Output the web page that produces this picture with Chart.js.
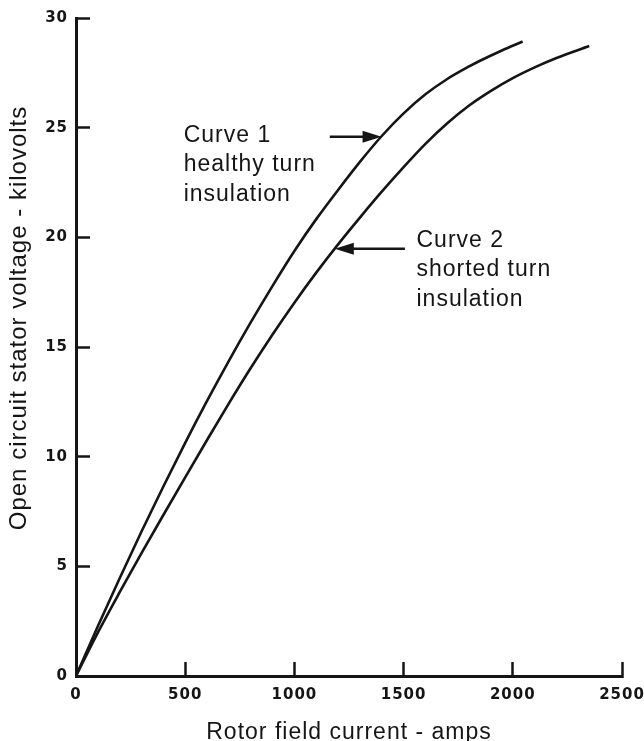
<!DOCTYPE html>
<html>
<head>
<meta charset="utf-8">
<script src="https://cdn.jsdelivr.net/npm/chart.js@4.4.1/dist/chart.umd.min.js"></script>
<style>
  html, body { margin: 0; padding: 0; background: #fff; }
  #wrap { width: 644px; height: 741px; }
</style>
</head>
<body>
<div id="wrap"><canvas id="myChart1" width="644" height="741"></canvas></div>
<script>
//------------------ data ------------------//
// curve 1 : healthy turn insulation
const CURRENT_1 = [0, 100, 200, 300, 400, 500, 600, 700, 800, 900, 1000, 1100, 1200, 1300, 1400, 1500, 1600, 1700, 1800, 1850, 1950, 2045]
const KV_1 = [0, 2.27, 4.46, 6.59, 8.64, 10.63, 12.54, 14.37, 16.12, 17.79, 19.38, 20.83, 22.16, 23.44, 24.62, 25.65, 26.52, 27.22, 27.79, 28.05, 28.52, 28.93]
// curve 2 : shorted turn insulation
const CURRENT_2 = [0, 100, 200, 300, 400, 500, 600, 700, 800, 900, 1000, 1100, 1200, 1300, 1400, 1500, 1600, 1700, 1800, 1900, 2000, 2100, 2200, 2350]
const KV_2 = [0, 1.98, 3.82, 5.6, 7.34, 9.06, 10.76, 12.43, 14.04, 15.57, 17.02, 18.39, 19.68, 20.9, 22.08, 23.2, 24.26, 25.2, 26.01, 26.68, 27.26, 27.75, 28.18, 28.72]
// axes
const X_TICKS = [0, 500, 1000, 1500, 2000, 2500]
const Y_TICKS = [0, 5, 10, 15, 20, 25, 30]
const X_TITLE = 'Rotor field current - amps'
const Y_TITLE = 'Open circuit stator voltage - kilovolts'
// notes (text anchor in data units, arrow tail -> tip in data units)
const NOTE_1 = ['Curve 1', 'healthy turn', 'insulation']
const NOTE_1_AT = [493, 24.36]
const ARROW_1 = [[1162, 24.59], [1399, 24.59]]
const NOTE_2 = ['Curve 2', 'shorted turn', 'insulation']
const NOTE_2_AT = [1559, 19.58]
const ARROW_2 = [[1506, 19.48], [1185, 19.48]]
//------------------------------------------//

const INK = '#151515'
const TEXT_FONT = '"Liberation Sans", Arial, sans-serif'

function toPoints(xs, ys){
    return xs.map(function(x, i){ return {x: x, y: ys[i]} })
}

/*--------------------------------------------------------------------
notes, arrows and the vertical axis title
--------------------------------------------------------------------*/
const notesPlugin = {
    id: 'notes',
    beforeDraw(chart){
        chart.ctx.letterSpacing = '1px'
    },
    afterDraw(chart){
        const ctx = chart.ctx
        const xs = chart.scales.x
        const ys = chart.scales.y
        ctx.save()
        ctx.fillStyle = INK
        ctx.strokeStyle = INK
        ctx.font = '23px ' + TEXT_FONT
        ctx.textAlign = 'left'
        ctx.textBaseline = 'alphabetic'

        function drawNote(lines, at){
            const x = xs.getPixelForValue(at[0])
            const y = ys.getPixelForValue(at[1])
            lines.forEach(function(t, i){ ctx.fillText(t, x, y + i * 29.5) })
        }
        function drawArrow(a){
            const x1 = xs.getPixelForValue(a[0][0]), y1 = ys.getPixelForValue(a[0][1])
            const x2 = xs.getPixelForValue(a[1][0]), y2 = ys.getPixelForValue(a[1][1])
            const dir = Math.sign(x2 - x1)
            ctx.lineWidth = 2.5
            ctx.beginPath()
            ctx.moveTo(x1, y1)
            ctx.lineTo(x2 - dir * 12, y2)
            ctx.stroke()
            ctx.beginPath()
            ctx.moveTo(x2, y2)
            ctx.lineTo(x2 - dir * 19, y2 - 6)
            ctx.lineTo(x2 - dir * 19, y2 + 6)
            ctx.closePath()
            ctx.fill()
        }
        drawNote(NOTE_1, NOTE_1_AT)
        drawNote(NOTE_2, NOTE_2_AT)
        drawArrow(ARROW_1)
        drawArrow(ARROW_2)

        // y axis title
        ctx.font = '24px ' + TEXT_FONT
        ctx.textAlign = 'center'
        ctx.textBaseline = 'middle'
        ctx.translate(19, 318)
        ctx.rotate(-Math.PI / 2)
        ctx.fillText(Y_TITLE, 0, 0)
        ctx.restore()
    }
}

const lineStyle = {
    borderColor: INK,
    borderWidth: 2.6,
    pointRadius: 0,
    fill: false,
    cubicInterpolationMode: 'monotone'
}

const axisGrid = {
    display: true,
    drawOnChartArea: false,
    drawTicks: true,
    tickLength: -14,
    tickWidth: 2.5,
    tickColor: INK,
    color: INK
}
const axisBorder = { display: true, color: INK, width: 3 }
const tickFont = { family: '"DejaVu Sans", sans-serif', size: 15, weight: 'bold' }
const plainLabel = function(v){ return String(v) }

const ctx = document.getElementById('myChart1')
window.myChart = new Chart(ctx, {
    type: 'line',
    data: {
        datasets: [
            Object.assign({ label: 'Curve 1', data: toPoints(CURRENT_1, KV_1) }, lineStyle),
            Object.assign({ label: 'Curve 2', data: toPoints(CURRENT_2, KV_2) }, lineStyle)
        ]
    },
    options: {
        responsive: false,
        animation: false,
        layout: { padding: { top: 18, right: 22, bottom: 0, left: 0 } },
        plugins: {
            legend: { display: false },
            tooltip: { enabled: false }
        },
        scales: {
            x: {
                type: 'linear',
                min: 0,
                max: 2500,
                grid: axisGrid,
                border: axisBorder,
                afterBuildTicks(scale){ scale.ticks = X_TICKS.map(function(v){ return {value: v} }) },
                afterFit(scale){
                    scale.height = 65
                    scale.paddingLeft = 0
                    scale.paddingRight = 0
                },
                ticks: { color: INK, font: tickFont, padding: 24, maxRotation: 0, callback: plainLabel },
                title: {
                    display: true,
                    text: X_TITLE,
                    color: INK,
                    font: { family: TEXT_FONT, size: 23, lineHeight: 0.6 },
                    padding: { top: 0, bottom: 1 }
                }
            },
            y: {
                type: 'linear',
                min: 0,
                max: 30,
                grid: axisGrid,
                border: axisBorder,
                afterBuildTicks(scale){ scale.ticks = Y_TICKS.map(function(v){ return {value: v} }) },
                afterFit(scale){
                    scale.width = 76
                    scale.paddingTop = 0
                    scale.paddingBottom = 0
                },
                ticks: { color: INK, font: tickFont, padding: 22, callback: plainLabel }
            }
        }
    },
    plugins: [notesPlugin]
});
</script>
</body>
</html>
